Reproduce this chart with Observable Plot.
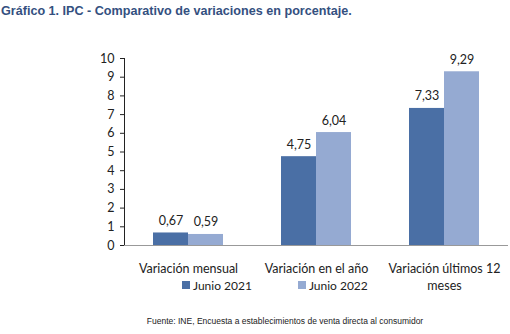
<!DOCTYPE html>
<html>
<head>
<meta charset="utf-8">
<script src="https://cdn.jsdelivr.net/npm/d3@7"></script>
<script src="https://cdn.jsdelivr.net/npm/@observablehq/plot@0.6"></script>
<style>
  html, body { margin: 0; padding: 0; background: #fff; }
  #wrap { position: relative; width: 510px; height: 334px; overflow: hidden; }
  #wrap svg { position: absolute; left: 0; top: 0; }
  #title { position: absolute; left: 1px; top: 4px; font: bold 12.6px "Liberation Sans", Arial, sans-serif; color: #34507f; white-space: nowrap; }
  #legend { position: absolute; top: 277px; left: 182px; font: 12px Lato, sans-serif; color: #222; white-space: nowrap; }
  #legend span.item { display: inline-flex; align-items: center; margin-right: 46px; }
  #legend span.sw { display: inline-block; width: 8px; height: 8px; margin-right: 3px; }
  #caption { position: absolute; top: 316px; left: 0; width: 570px; text-align: center; font: 8.5px "Liberation Sans", Arial, sans-serif; color: #222; white-space: nowrap; }
</style>
</head>
<body>
<div id="wrap">
  <div id="title">Gráfico 1. IPC - Comparativo de variaciones en porcentaje.</div>
  <div id="legend"></div>
  <div id="caption">Fuente: INE, Encuesta a establecimientos de venta directa al consumidor</div>
</div>
<script>
const categories = ["Variación mensual", "Variación en el año", "Variación últimos 12 meses"];
const categoryLabels = ["Variación mensual", "Variación en el año", "Variación últimos 12\nmeses"];
const series = ["Junio 2021", "Junio 2022"];
const values2021 = [0.67, 4.75, 7.33];
const values2022 = [0.59, 6.04, 9.29];
const yTicks = [0, 1, 2, 3, 4, 5, 6, 7, 8, 9, 10];
const colors = ["#4a6fa5", "#95aad2"];

const data = [];
categories.forEach((c, i) => {
  data.push({cat: c, serie: series[0], value: values2021[i]});
  data.push({cat: c, serie: series[1], value: values2022[i]});
});
const fmt = v => v.toFixed(2).replace(".", ",");
const labelOf = c => categoryLabels[categories.indexOf(c)];

const chart = Plot.plot({
  width: 510,
  height: 334,
  marginTop: 58,
  marginBottom: 89,
  marginLeft: 124,
  marginRight: 2,
  style: {fontFamily: "Lato, sans-serif", fontSize: "12.5px", color: "#222", background: "transparent"},
  fx: {domain: categories, padding: 0, label: null, axis: null},
  x: {domain: series, paddingInner: 0, paddingOuter: 0.78, axis: null},
  y: {domain: [0, 10], ticks: yTicks, label: null, line: true, tickSize: 4, tickPadding: 6},
  color: {domain: series, range: colors},
  marks: [
    Plot.barY(data, {fx: "cat", x: "serie", y: "value", fill: "serie"}),
    Plot.ruleY([0], {stroke: "#999"}),
    Plot.text(data, {fx: "cat", x: "serie", y: "value", text: d => fmt(d.value), dy: -12, fontSize: 12.5, fill: "#222"}),
    Plot.axisFx({anchor: "bottom", tickSize: 0, tickPadding: 16, label: null, tickFormat: labelOf, lineHeight: 1.35, fontSize: 12.5, fill: "#222"})
  ]
});
document.getElementById("wrap").prepend(chart);

const legend = document.getElementById("legend");
series.forEach((s, i) => {
  const item = document.createElement("span");
  item.className = "item";
  const sw = document.createElement("span");
  sw.className = "sw";
  sw.style.background = colors[i];
  item.appendChild(sw);
  item.appendChild(document.createTextNode(s));
  legend.appendChild(item);
});
</script>
</body>
</html>
